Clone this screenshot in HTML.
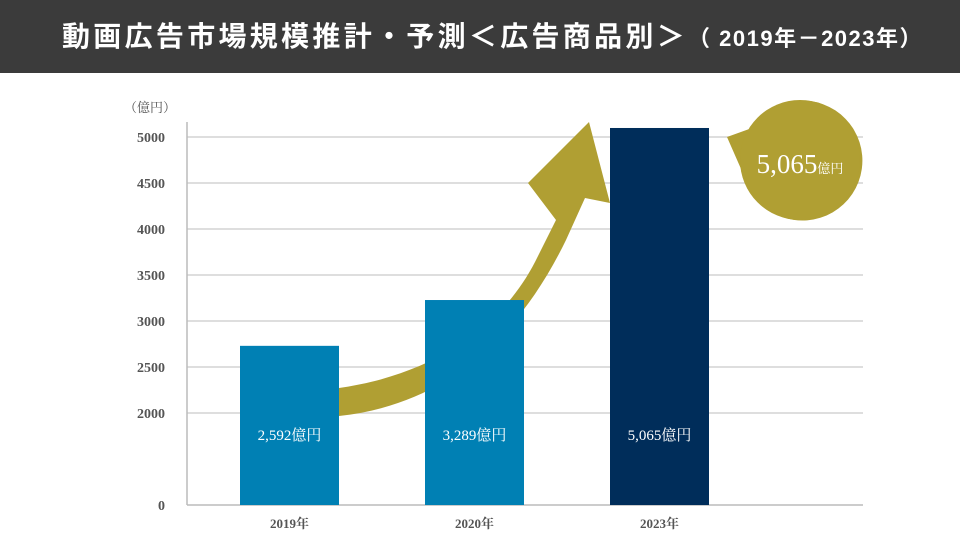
<!DOCTYPE html>
<html><head><meta charset="utf-8"><style>
body{margin:0;width:960px;height:541px;background:#fff;overflow:hidden;font-family:"Liberation Sans","Noto Sans CJK JP",sans-serif}
#hdr{position:absolute;left:0;top:0;width:960px;height:73px;background:#3b3b3b;color:#fff;font-weight:bold;font-size:28px;line-height:73px;padding-left:62px;box-sizing:border-box;letter-spacing:3.3px;white-space:nowrap}
#hdr span{font-size:22px;letter-spacing:1.5px}
svg{position:absolute;left:0;top:0}
</style></head><body>
<div id="hdr">動画広告市場規模推計・予測＜広告商品別＞<span>（ 2019年－2023年）</span></div>
<svg id="c" width="960" height="541"></svg>
<script>
const categories=["2019年","2020年","2023年"];
const values=[2730,3228,5098];
const valueLabels=["2,592億円","3,289億円","5,065億円"];
const ticks=[0,2000,2500,3000,3500,4000,4500,5000];
const colors=["#0080b4","#0080b4","#002d5a"];
const NS="http://www.w3.org/2000/svg";
const svg=document.getElementById('c');
function y(v){return v>=2000?413-(v-2000)*0.092:505-v*0.046;}
function x(i){return 240+i*185;}
const bw=99;
function mk(t,a,txt){const e=document.createElementNS(NS,t);for(const k in a)e.setAttribute(k,a[k]);if(txt!=null)e.textContent=txt;svg.appendChild(e);return e;}
const serif='"Liberation Serif","Noto Serif CJK SC",serif';
ticks.forEach(t=>{
 if(t>0){const g=mk('line',{x1:187,x2:863,y1:y(t),y2:y(t),stroke:'#d4d4d4','stroke-width':1.5});
 
 }
 const l=mk('text',{x:165,y:y(t)+5,'text-anchor':'end','font-size':14,fill:'#555','font-family':serif,'font-weight':'bold'},t);
 
 
});
const u=mk('text',{x:124,y:112,'font-size':13,fill:'#555','font-family':serif},'（億円）');


const ax=mk('line',{x1:187,x2:187,y1:122,y2:505,stroke:'#bbb','stroke-width':1.5});


const bl=mk('line',{x1:187,x2:863,y1:505,y2:505,stroke:'#bbb','stroke-width':1.5});


// arrow
const ar=mk('path',{d:'M339,388 C430,375 500,330 535,262 L556,220 L528,183 L589,122 L610,203 L585,198 L566,240 C515,345 440,405 339,416 Z',fill:'#b09f33'});


values.forEach((v,i)=>{
 const r=mk('rect',{x:x(i),y:y(v),width:bw,height:505-y(v),fill:colors[i]});
 
 
 const t=mk('text',{x:x(i)+bw/2,y:440,'text-anchor':'middle','font-size':15,fill:'#fff','font-family':serif},valueLabels[i]);
 
 
 const c=mk('text',{x:x(i)+bw/2,y:528,'text-anchor':'middle','font-size':13,fill:'#555','font-family':serif,'font-weight':'bold'},categories[i]);
 
 
});
// bubble
const bb=mk('path',{d:'M727,137 L752,128 A60,60 0 1 1 745,178 Z',fill:'#b09f33'});


mk('circle',{cx:800,cy:160,r:60,fill:'#b09f33'});
const bt=mk('text',{x:800,y:173,'text-anchor':'middle',fill:'#fff','font-family':serif});


const s1=document.createElementNS(NS,'tspan');s1.setAttribute('font-size','27');s1.textContent='5,065';bt.appendChild(s1);
const s2=document.createElementNS(NS,'tspan');s2.setAttribute('font-size','13');s2.textContent='億円';bt.appendChild(s2);
</script>
</body></html>
